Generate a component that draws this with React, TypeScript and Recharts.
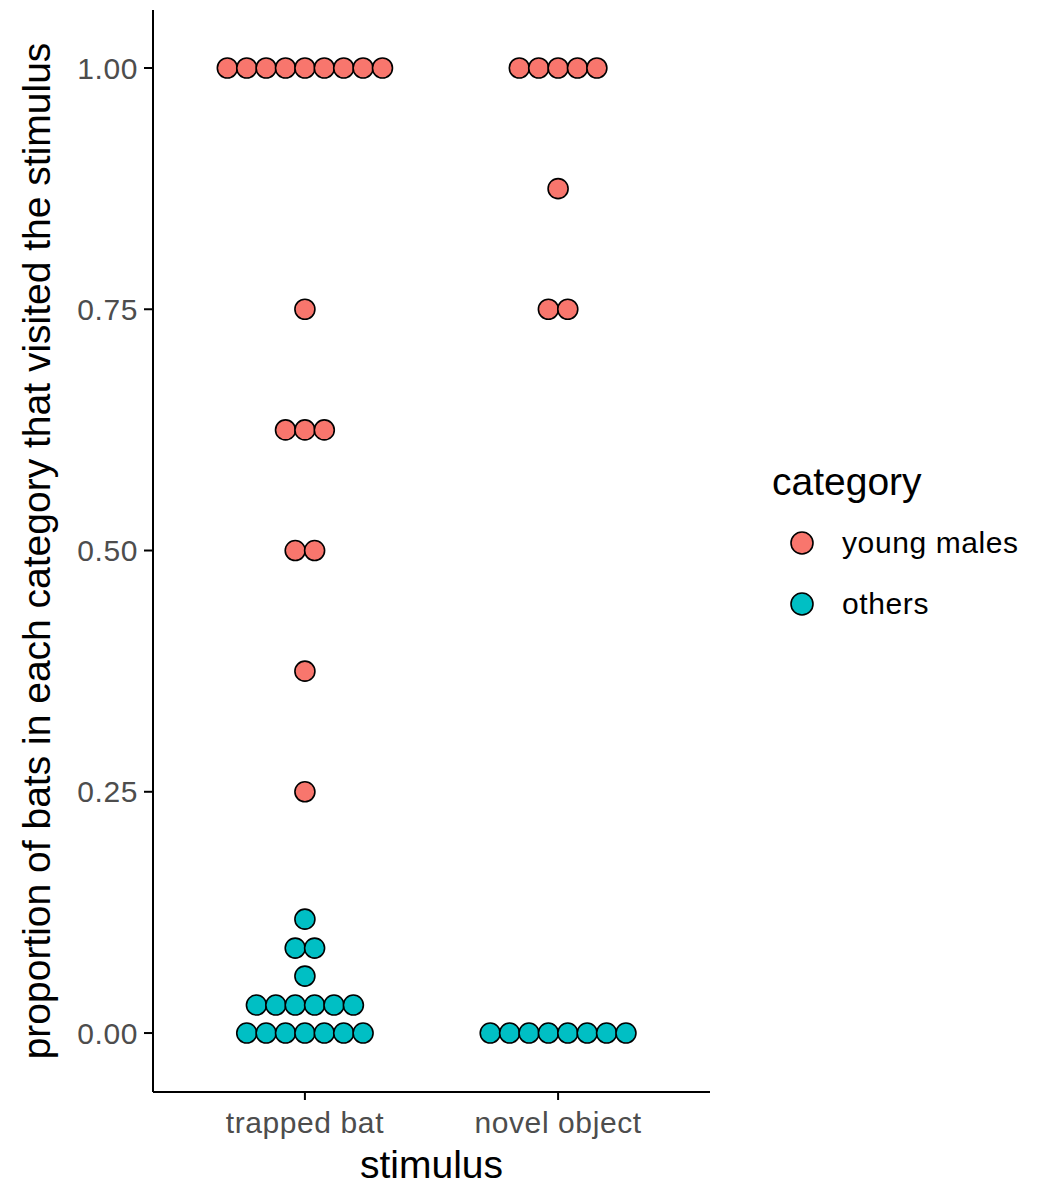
import { Legend, Scatter, ScatterChart, XAxis, YAxis } from "recharts";

const stimuli = ["trapped bat", "novel object"];
const categories = ["young males", "others"];
const categoryColors = ["#F8766D", "#00BFC4"];
const yTicks = [0, 0.25, 0.5, 0.75, 1];

// one entry per bat group (dot), proportion that visited the stimulus
const youngMalesTrappedBat = [1, 1, 1, 1, 1, 1, 1, 1, 1, 0.75, 0.625, 0.625, 0.625, 0.5, 0.5, 0.375, 0.25];
const youngMalesNovelObject = [1, 1, 1, 1, 1, 0.875, 0.75, 0.75];
const othersTrappedBat = [
  0, 0, 0, 0, 0, 0, 0,
  0.029, 0.029, 0.029, 0.029, 0.029, 0.029,
  0.059, 0.088, 0.088, 0.118,
];
const othersNovelObject = [0, 0, 0, 0, 0, 0, 0, 0];

const FONT = '"Liberation Sans", Arial, sans-serif';
const DOT_STEP = 0.0766; // dot width in x-axis units
const DOT_R = 10;

// centre dots sharing the same value side by side around the stimulus position
function stackDots(values: number[], stimulusIndex: number) {
  const counts = new Map<number, number>();
  values.forEach((v) => counts.set(v, (counts.get(v) ?? 0) + 1));
  const seen = new Map<number, number>();
  return values.map((v) => {
    const n = counts.get(v) ?? 1;
    const i = seen.get(v) ?? 0;
    seen.set(v, i + 1);
    return { x: stimulusIndex + 1 + (i - (n - 1) / 2) * DOT_STEP, y: v };
  });
}

const youngMalesData = [
  ...stackDots(youngMalesTrappedBat, 0),
  ...stackDots(youngMalesNovelObject, 1),
];
const othersData = [
  ...stackDots(othersTrappedBat, 0),
  ...stackDots(othersNovelObject, 1),
];

function dotShape(fill: string) {
  return (props: any) => (
    <circle cx={props.cx} cy={props.cy} r={DOT_R} fill={fill} stroke="#000" strokeWidth={1.6} />
  );
}

function CategoryLegend() {
  return (
    <svg width={277} height={170} style={{ fontFamily: FONT }}>
      <text x={12} y={40} fontSize={39} fill="#000">
        category
      </text>
      {categories.map((name, i) => (
        <g key={name}>
          <circle cx={42} cy={88 + i * 61} r={11} fill={categoryColors[i]} stroke="#000" strokeWidth={1.6} />
          <text x={82} y={98 + i * 61} fontSize={30} letterSpacing={0.6} fill="#000">
            {name}
          </text>
        </g>
      ))}
    </svg>
  );
}

export default function App() {
  return (
    <div style={{ position: "absolute", left: 0, top: 0, background: "#fff", fontFamily: FONT }}>
      <ScatterChart width={1037} height={1185} margin={{ top: 10, right: 327, bottom: 0, left: 0 }}>
        <XAxis
          type="number"
          dataKey="x"
          domain={[0.4, 2.6]}
          allowDataOverflow
          ticks={[1, 2]}
          tickFormatter={(v) => stimuli[Number(v) - 1] ?? ""}
          height={93}
          tickSize={8}
          tickMargin={12}
          axisLine={{ stroke: "#000", strokeWidth: 2 }}
          tickLine={{ stroke: "#000", strokeWidth: 2 }}
          tick={{ fill: "#4D4D4D", fontSize: 30, fontFamily: FONT, letterSpacing: 0.6 }}
          label={({ viewBox }: any) => (
            <text
              x={viewBox.x + viewBox.width / 2}
              y={1178}
              textAnchor="middle"
              fontSize={39}
              fill="#000"
              fontFamily={FONT}
            >
              stimulus
            </text>
          )}
        />
        <YAxis
          type="number"
          dataKey="y"
          domain={[-0.0611, 1.0601]}
          allowDataOverflow
          ticks={yTicks}
          tickFormatter={(v) => Number(v).toFixed(2)}
          width={153}
          tickSize={9}
          tickMargin={6}
          axisLine={{ stroke: "#000", strokeWidth: 2 }}
          tickLine={{ stroke: "#000", strokeWidth: 2 }}
          tick={{ fill: "#4D4D4D", fontSize: 30, fontFamily: FONT, letterSpacing: 0.6 }}
          label={({ viewBox }: any) => {
            const cy = viewBox.y + viewBox.height / 2;
            return (
              <text
                x={50}
                y={cy}
                transform={`rotate(-90, 50, ${cy})`}
                textAnchor="middle"
                fontSize={39}
                fill="#000"
                fontFamily={FONT}
              >
                proportion of bats in each category that visited the stimulus
              </text>
            );
          }}
        />
        <Scatter
          name={categories[0]}
          data={youngMalesData}
          fill={categoryColors[0]}
          shape={dotShape(categoryColors[0])}
          isAnimationActive={false}
        />
        <Scatter
          name={categories[1]}
          data={othersData}
          fill={categoryColors[1]}
          shape={dotShape(categoryColors[1])}
          isAnimationActive={false}
        />
        <Legend
          layout="vertical"
          align="center"
          verticalAlign="middle"
          content={() => <CategoryLegend />}
          wrapperStyle={{ left: 760, top: 455, width: 277, height: 170 }}
        />
      </ScatterChart>
    </div>
  );
}
